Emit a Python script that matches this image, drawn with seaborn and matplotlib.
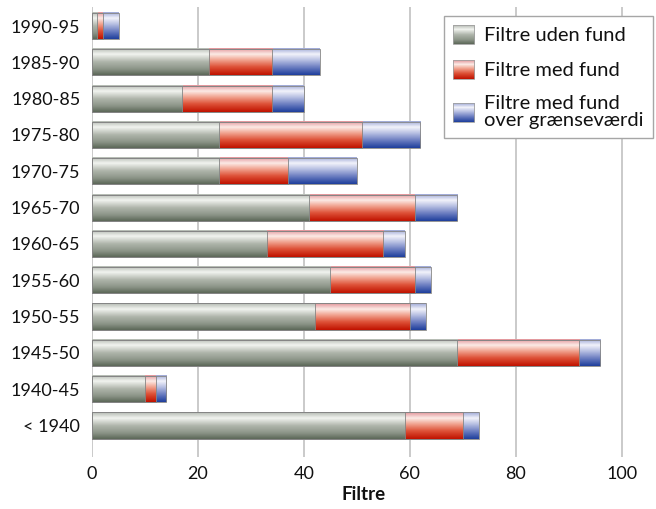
import numpy as np
import pandas as pd
import matplotlib
matplotlib.use('Agg')
import matplotlib.pyplot as plt
import seaborn as sns
from matplotlib.colors import LinearSegmentedColormap
from matplotlib.legend_handler import HandlerBase
from matplotlib.image import BboxImage
from matplotlib.transforms import Bbox, TransformedBbox
from matplotlib.patches import Rectangle

# Data (top to bottom)
periods = ['1990-95', '1985-90', '1980-85', '1975-80', '1970-75', '1965-70',
           '1960-65', '1955-60', '1950-55', '1945-50', '1940-45', '< 1940']
uden_fund = [1, 22, 17, 24, 24, 41, 33, 45, 42, 69, 10, 59]
med_fund = [1, 12, 17, 27, 13, 20, 22, 16, 18, 23, 2, 11]
over_graense = [3, 9, 6, 11, 13, 8, 4, 3, 3, 4, 2, 3]

series_labels = ['Filtre uden fund', 'Filtre med fund', 'Filtre med fund\nover grænseværdi']

# Cylinder-like vertical gradients (top -> bottom)
GRAY_CMAP = LinearSegmentedColormap.from_list('gray_bar', [
    (0.0, '#b4bab2'), (0.22, '#f2f4f0'), (0.5, '#b0b6ac'), (0.78, '#8b9487'), (1.0, '#5d6859')])
RED_CMAP = LinearSegmentedColormap.from_list('red_bar', [
    (0.0, '#e2959a'), (0.22, '#fcebe6'), (0.45, '#f0a08c'), (0.7, '#de5238'), (1.0, '#c01200')])
BLUE_CMAP = LinearSegmentedColormap.from_list('blue_bar', [
    (0.0, '#9ea8d6'), (0.22, '#f2f3fb'), (0.45, '#b6bee2'), (0.72, '#6a7cc0'), (1.0, '#1f3f9c')])
EDGE_COLOR = '#858585'
TEXT_COLOR = '#111111'

GRAD = np.linspace(0, 1, 64).reshape(-1, 1)


class GradientHandler(HandlerBase):
    def __init__(self, cmap):
        super().__init__()
        self.cmap = cmap

    def create_artists(self, legend, orig_handle, xdescent, ydescent,
                       width, height, fontsize, trans):
        bb = Bbox.from_bounds(-xdescent, -ydescent, width, height)
        img = BboxImage(TransformedBbox(bb, trans), cmap=self.cmap,
                        interpolation='bilinear', origin='upper')
        img.set_data(GRAD)
        img.set_clim(0, 1)
        edge = Rectangle((-xdescent, -ydescent), width, height, facecolor='none',
                         edgecolor='#a0a0a0', linewidth=0.6, transform=trans)
        return [img, edge]


df = pd.DataFrame({'periode': periods, 'uden': uden_fund, 'med': med_fund, 'over': over_graense})
df['cum_med'] = df['uden'] + df['med']
df['total'] = df['cum_med'] + df['over']

sns.set_theme(style='white')
plt.rcParams['font.family'] = ['Lato', 'DejaVu Sans']

fig = plt.figure(figsize=(6.56, 5.09), dpi=100)
ax = fig.add_axes([0.1405, 0.102, 0.8595, 0.884])

# stacked bars: longest first, then overlay the shorter ones
layers = [('total', BLUE_CMAP, 2.0), ('cum_med', RED_CMAP, 2.1), ('uden', GRAY_CMAP, 2.2)]
for col, cmap, z in layers:
    n_before = len(ax.patches)
    sns.barplot(data=df, x=col, y='periode', order=periods, orient='h',
                width=0.72, color='white', ax=ax)
    for p in ax.patches[n_before:]:
        x0, y0 = p.get_x(), p.get_y()
        w, h = p.get_width(), p.get_height()
        if w <= 0:
            continue
        ax.imshow(GRAD, cmap=cmap, vmin=0, vmax=1, aspect='auto', interpolation='bilinear',
                  origin='upper', extent=(x0, x0 + w, y0 + h, y0), zorder=z)
        p.set_facecolor('none')
        p.set_edgecolor(EDGE_COLOR)
        p.set_linewidth(0.6)
        p.set_zorder(2.5)

ax.set_xlim(0, 106.5)
ax.set_ylim(11.87, -0.52)
ax.set_xticks([0, 20, 40, 60, 80, 100])
ax.grid(axis='x', color='#c6c6c6', linewidth=1.3)
ax.grid(axis='y', visible=False)
ax.set_axisbelow(True)
for s in ax.spines.values():
    s.set_visible(False)

ax.tick_params(axis='x', length=0, pad=6.5, labelsize=13, labelcolor=TEXT_COLOR)
ax.tick_params(axis='y', length=0, pad=8.5, labelsize=13, labelcolor=TEXT_COLOR)
ax.set_ylabel('')
ax.set_xlabel('Filtre', fontsize=13.5, fontweight='bold', color=TEXT_COLOR)
ax.xaxis.set_label_coords(0.482, -0.064)
ax.xaxis.label.set_va('top')

handles = [Rectangle((0, 0), 1, 1) for _ in series_labels]
handler_map = {h: GradientHandler(c) for h, c in zip(handles, [GRAY_CMAP, RED_CMAP, BLUE_CMAP])}
leg = ax.legend(handles, series_labels, handler_map=handler_map,
                loc='upper right', bbox_to_anchor=(0.995, 0.969), bbox_transform=fig.transFigure,
                borderaxespad=0, fontsize=14.5, frameon=True, fancybox=False, framealpha=1,
                edgecolor='#a6a6a6', handlelength=1.05, handleheight=1.05, handletextpad=0.5,
                labelspacing=0.8, borderpad=0.45)
leg.get_frame().set_linewidth(1.0)
for t in leg.get_texts():
    t.set_color(TEXT_COLOR)
    t.set_linespacing(0.95)

fig.savefig('out.png', dpi=100)
